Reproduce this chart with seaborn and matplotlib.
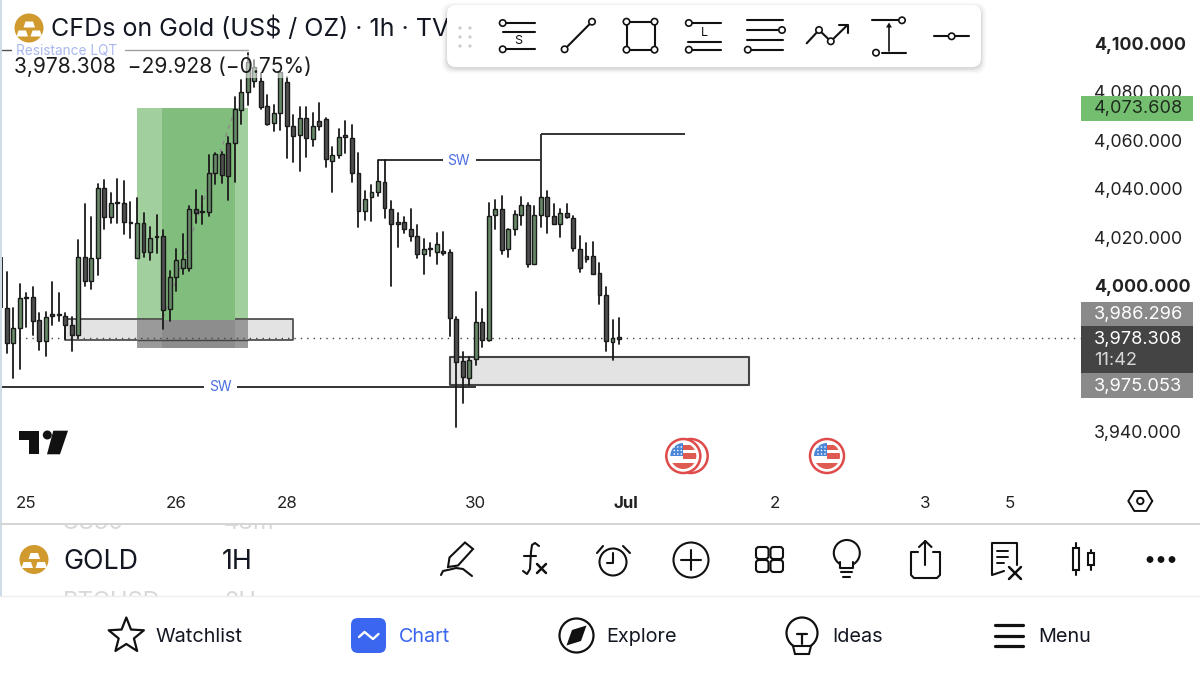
import numpy as np
import pandas as pd
import seaborn as sns
import matplotlib.pyplot as plt
from matplotlib.patches import Circle, Rectangle, Polygon, FancyBboxPatch

# 1. data (bars 1..95, price in US$)
high_px = [4005.6,3990.8,4000.7,3997.0,3999.4,3988.7,3989.1,4001.5,3997.0,3988.7,3987.1,4018.8,4033.7,4028.3,4041.9,4043.6,4038.2,4044.0,4043.2,4034.5,
           4036.1,4030.0,4024.2,4029.1,4022.9,4006.0,4015.1,4021.3,4032.8,4039.4,4037.0,4053.9,4054.7,4055.1,4061.3,4077.8,4084.8,4095.9,4093.1,4087.7,
           4078.6,4074.5,4088.1,4086.0,4070.4,4073.7,4073.7,4071.2,4075.3,4069.1,4057.2,4064.6,4067.9,4066.3,4054.7,4039.0,4041.5,4051.8,4051.8,4034.9,
           4030.0,4028.3,4031.6,4025.0,4019.2,4017.6,4021.7,4022.1,4014.7,3987.1,3972.6,3970.6,3997.4,3990.4,4034.1,4035.3,4037.0,4023.4,4030.8,4036.6,
           4034.1,4032.8,4036.6,4039.0,4033.7,4031.6,4033.7,4028.7,4020.5,4017.6,4018.0,4009.3,3999.4,3985.8,3986.7]
low_px = [3972.2,3961.9,3965.6,3982.9,3979.6,3973.5,3971.0,3983.8,3985.4,3978.0,3973.1,3978.4,3999.8,3998.6,4004.4,4023.4,4025.8,4025.8,4021.3,4019.6,
          4011.4,4011.8,4010.6,4013.5,3982.1,3985.4,3997.8,4004.8,4006.0,4025.8,4025.4,4028.7,4041.9,4042.3,4035.3,4042.7,4066.7,4074.5,4081.9,4072.9,
          4066.3,4063.8,4064.2,4052.6,4051.0,4047.3,4053.1,4057.6,4064.2,4048.9,4038.6,4052.6,4054.7,4042.7,4024.2,4027.1,4026.7,4037.0,4027.9,3999.9,
          4015.9,4021.7,4018.4,4011.4,4004.8,4012.2,4009.0,4012.6,3979.2,3941.7,3951.6,3959.0,3967.3,3974.7,3977.2,4023.4,4013.0,4011.8,4020.9,4025.0,
          4007.7,4009.0,4024.2,4021.7,4025.4,4020.1,4027.9,4014.3,4005.6,4009.7,4004.8,3992.4,3973.1,3969.3,3976.0]
open_px = [3990.8,3976.3,3982.5,3995.3,3995.3,3985.8,3977.2,3988.3,3988.3,3987.5,3983.8,3979.6,4011.8,4001.9,4011.4,4040.3,4028.3,4034.5,4034.1,4026.2,
           4011.4,4025.8,4013.9,4020.5,4020.5,3990.4,4003.6,4007.3,4007.3,4031.6,4030.8,4030.4,4046.4,4054.3,4058.8,4058.8,4072.4,4079.9,4084.4,4084.4,
           4074.1,4067.1,4071.2,4084.0,4065.8,4062.1,4069.1,4060.5,4067.9,4068.7,4051.4,4053.9,4062.1,4060.9,4046.4,4030.8,4036.5,4038.6,4042.7,4031.6,
           4026.2,4026.2,4023.4,4020.5,4013.0,4015.5,4013.9,4014.3,4013.9,3986.2,3968.9,3961.9,3969.7,3985.0,3977.6,4029.1,4031.6,4015.1,4023.4,4029.1,
           4033.3,4009.0,4029.1,4036.6,4028.7,4025.4,4030.0,4027.9,4015.1,4012.2,4012.2,4005.2,3996.1,3976.8,3978.8]
close_px = [3976.3,3982.5,3994.9,3994.9,3985.4,3977.2,3987.1,3987.5,3987.7,3983.8,3979.6,4011.8,4001.9,4011.4,4040.3,4028.3,4034.1,4034.1,4026.2,4025.8,
            4025.8,4013.9,4019.6,4020.1,3990.0,4003.6,4010.6,4011.0,4031.6,4030.0,4030.4,4046.4,4054.3,4045.6,4045.2,4072.8,4079.9,4092.2,4090.2,4073.7,
            4066.7,4071.2,4088.1,4065.8,4061.7,4069.1,4060.9,4065.8,4065.8,4052.2,4053.9,4061.3,4061.3,4046.4,4030.8,4035.7,4038.6,4043.2,4032.0,4025.4,
            4025.4,4023.4,4020.5,4013.0,4015.1,4015.1,4017.2,4013.5,3986.7,3968.5,3962.3,3969.3,3985.0,3977.6,4028.7,4031.6,4014.7,4023.4,4029.5,4033.3,
            4009.0,4029.1,4036.6,4028.7,4025.4,4030.0,4028.3,4015.5,4007.3,4011.0,4004.8,3996.1,3977.2,3978.4,3978.0]

price_ticks = [4100, 4080, 4060, 4040, 4020, 4000, 3940]
bold_prices = [4100, 4000]
date_pos = [4, 27, 44, 73, 96, 119, 142, 155]
date_labels = ['25', '26', '28', '30', 'Jul', '2', '3', '5']
last_price = 3978.308
green_tag = '4,073.608'
bid_tag = '3,986.296'
last_tag = '3,978.308'
countdown = '11:42'
ask_tag = '3,975.053'
title = 'CFDs on Gold (US$ / OZ) · 1h · TV'
quote = '3,978.308  −29.928 (−0.75%)'

W, H = 1200, 675
CHART_W, CHART_H = 1085, 490
DARK = '#1a1a1a'

sns.set_theme(style='white')
plt.rcParams['font.family'] = ['Inter', 'DejaVu Sans']

fig = plt.figure(figsize=(12, 6.75), dpi=100, facecolor='white')
ax = fig.add_axes([0, 1 - CHART_H / H, CHART_W / W, CHART_H / H], zorder=1)
ui = fig.add_axes([0, 0, 1, 1], zorder=2)
ui.set_xlim(0, W)
ui.set_ylim(H, 0)
ui.axis('off')
ui.patch.set_alpha(0)

# 2. chart: bars and drawings, in bar number / price
bars = pd.DataFrame({'bar': np.arange(1, len(high_px) + 1), 'high': high_px, 'low': low_px,
                     'open': open_px, 'close': close_px})
bars['top'] = bars[['open', 'close']].max(axis=1)
bars['bottom'] = bars[['open', 'close']].min(axis=1)
bars['fill'] = np.where(bars['close'] >= bars['open'], '#678a68', '#4f4f4f')
wicks = bars.melt(id_vars='bar', value_vars=['high', 'low'], value_name='price')

ax.set_xlim(-0.03, (CHART_W - 0.2) / 6.514)
ax.set_ylim(3915.7, 4117.8)

# long position box + gray zones
ax.fill_between([20.95, 38.04], 3986.0, 4073.4, color='#a2cf9e', lw=0, zorder=1)
ax.fill_between([24.9, 36.05], 3986.0, 4073.4, color='#81bd7d', lw=0, zorder=1.1)
ax.fill_between([10, 44.95], 3977.6, 3986.2, facecolor='#e3e3e3', edgecolor='#444444', lw=1.2, zorder=1)
ax.fill_between([20.95, 38.04], 3974.4, 3986.0, color='#9a9a9a', lw=0, zorder=1.2)
ax.fill_between([24.9, 36.05], 3974.4, 3986.0, color='#8d8d8d', lw=0, zorder=1.3)
ax.hlines(3977.6, 20.95, 38.04, color='#444444', lw=1.0, zorder=1.4)
ax.fill_between([69, 115], 3959.0, 3970.6, facecolor='#e3e3e3', edgecolor='#444444', lw=1.5, zorder=1)
ax.plot([25, 30.7, 36], [3986.7, 4031.0, 4072.4], color='#8a8a8a', lw=1, ls=(0, (3, 3)), zorder=1.5)

ax.hlines(last_price, -0.03, 165.8, color='#444444', lw=1.0, ls=(0, (1, 3.6)), zorder=1.5)

# swing lines
ax.hlines([3958.2, 3958.2], [-0.03, 36.35], [31.3, 73.05], color='#333333', lw=1.4, zorder=1.6)
ax.hlines([4051.8, 4051.8], [58, 73], [68, 83], color='#333333', lw=1.4, zorder=1.6)
ax.hlines(4062.7, 83, 105.1, color='#333333', lw=1.4, zorder=1.6)
ax.vlines(83, 4036.6, 4062.7, color='#333333', lw=1.4, zorder=1.6)
ax.text(33.8, 3958.0, 'SW', color='#4a6ee0', fontsize=10, ha='center', va='center')
ax.text(70.4, 4051.6, 'SW', color='#4a6ee0', fontsize=10, ha='center', va='center')

# candles
ax.vlines(0.28, 3990.8, 4011.8, color=DARK, lw=1.3, zorder=3)
sns.lineplot(data=wicks, x='bar', y='price', units='bar', estimator=None, color=DARK, lw=1.3,
             legend=False, ax=ax, zorder=3)
ax.bar(bars['bar'], bars['top'] - bars['bottom'], bottom=bars['bottom'], width=0.6,
       color=bars['fill'], edgecolor=DARK, linewidth=1.0, zorder=4)

ax.set_xlabel('')
ax.set_ylabel('')
ax.set_yticks(price_ticks)
ax.set_yticklabels([f'{p:,.3f}' for p in price_ticks], fontsize=12.8, color='#222222')
ax.yaxis.tick_right()
ax.set_xticks(date_pos)
ax.set_xticklabels(date_labels, fontsize=12.2, color='#222222')
ax.tick_params(axis='both', length=0)
ax.tick_params(axis='y', pad=6.6)
ax.tick_params(axis='x', pad=4)
for lab, p in zip(ax.get_yticklabels(), price_ticks):
    if p in bold_prices:
        lab.set_fontweight('bold')
        lab.set_fontsize(12.8)
for lab, d in zip(ax.get_xticklabels(), date_labels):
    if d == 'Jul':
        lab.set_fontweight('bold')
sns.despine(ax=ax, left=True, right=True, top=True, bottom=True)


# 3. app interface, in screen pixels
def line(xs, ys, lw=1.5, color='#111111', z=12, **kw):
    ui.plot(xs, ys, color=color, lw=lw, solid_capstyle='round', zorder=z, **kw)


def ring(x, y, r, lw=1.2, fc='white', ec='#111111', z=13):
    ui.add_patch(Circle((x, y), r, fc=fc, ec=ec, lw=lw, zorder=z))


def gold_logo(cx, cy, r):
    ui.add_patch(Circle((cx, cy), r, fc='#d09a2f', ec='none', zorder=5))
    s = r / 14.5
    for dx, dy in [(0, -6.5), (-7, 2.5), (7, 2.5)]:
        pts = [(dx - 5.5 * s, cy + (dy + 6) * s), (dx - 3.5 * s, cy + dy * s), (dx + 4 * s, cy + dy * s), (dx + 6 * s, cy + (dy + 6) * s)]
        ui.add_patch(Polygon([(cx + px, py) for px, py in pts], fc='white', ec='none', zorder=6))


def us_flag(cx, cy):
    ui.add_patch(Circle((cx, cy), 17, fc='white', ec='#df4a4a', lw=1.8, zorder=6))
    disk = Circle((cx, cy), 13, transform=ui.transData)
    parts = [Rectangle((cx - 14, cy - 14), 14, 14, fc='#4a86d8', ec='none', zorder=7),
             Rectangle((cx, cy - 11), 14, 5, fc='#df5a50', ec='none', zorder=7),
             Rectangle((cx, cy - 3), 14, 6, fc='#df5a50', ec='none', zorder=7),
             Rectangle((cx - 14, cy + 7), 28, 7, fc='#df5a50', ec='none', zorder=7)]
    for p in parts:
        ui.add_patch(p)
        p.set_clip_path(disk)
    for dx in [-9, -5.5, -2]:
        for dy in [-9, -5.5, -2]:
            ui.add_patch(Circle((cx + dx, cy + dy), 0.8, fc='white', ec='none', zorder=8))


# left border, rules, panel ghost text
ui.add_patch(Rectangle((0, 0), 1.5, 596, fc='#cfdbe6', ec='none', zorder=1))
ui.add_patch(Rectangle((1.5, 524), W, 72, fc='white', ec='none', zorder=1.5))
line([0, W], [523.5, 523.5], lw=1.4, color='#d4d4d4', z=3)
line([0, W], [596, 596], lw=1, color='#eeeeee', z=3)
clip = Rectangle((0, 524), W, 72, transform=ui.transData)
for x, y, s in [(62, 523, 'US30'), (224, 523, '48m'), (63, 602, 'BTCUSD'), (224, 602, '2H')]:
    g = ui.text(x, y, s, fontsize=17, color='#d8d8d8', va='center', zorder=2, clip_on=True)
    g.set_clip_path(clip)

# header
gold_logo(29, 28, 14.5)
ui.text(51, 29, title, fontsize=18, color='#131722', va='center', zorder=5)
ui.add_patch(Rectangle((12, 55), 303, 23, fc='white', alpha=0.55, ec='none', zorder=3))
ui.text(14, 67, quote, fontsize=15.1, color='#1c1c1c', va='center', zorder=5)
ui.text(16, 51, 'Resistance LQT', fontsize=9.8, color='#a9b8ee', va='center', zorder=5)
line([2, 11], [50, 50], lw=1, color='#555555', z=4)
line([125, 248], [50, 50], lw=1, color='#a0a0a0', z=4)

# toolbar
for grow, a in [(5, 0.025), (3.5, 0.03), (2, 0.04), (1, 0.05)]:
    ui.add_patch(FancyBboxPatch((447 - grow, 6 - grow + 1.5), 534 + 2 * grow, 61 + 2 * grow, boxstyle='round,pad=0,rounding_size=10',
                                fc='black', alpha=a, ec='none', zorder=9))
ui.add_patch(FancyBboxPatch((447, 5), 534, 62, boxstyle='round,pad=0,rounding_size=9', fc='white', ec='none', zorder=10))
for x in [460, 470]:
    for y in [28, 37, 46]:
        ui.add_patch(Circle((x, y), 1.6, fc='#cccccc', ec='none', zorder=11))
line([505, 534.6], [23, 23])
line([503, 534.6], [31.7, 31.7])
line([505, 534.6], [49.3, 49.3])
ring(502.7, 23, 3.2)
ring(502.7, 49.3, 3.2)
ui.text(518.4, 41, 'S', fontsize=9, color='#111111', ha='center', va='center', zorder=12)
line([564.6, 592], [49.3, 21.7])
ring(564.6, 49.3, 3.2)
ring(592, 21.7, 3.2)
line([626.5, 654.5, 654.5, 626.5, 626.5], [21.7, 21.7, 49.7, 49.7, 21.7])
for x in [626.5, 654.5]:
    for y in [21.7, 49.7]:
        ring(x, y, 3.2)
line([691, 720.8], [23, 23])
line([688, 720.8], [41.7, 41.7])
line([691, 720.8], [49.7, 49.7])
ring(688.8, 23, 3.2)
ring(688.8, 49.7, 3.2)
ui.text(704, 33, 'L', fontsize=9, color='#111111', ha='center', va='center', zorder=12)
line([746.8, 782.7], [20, 20])
line([746.8, 778], [30, 30])
line([746.8, 782.7], [39.7, 39.7])
line([750, 782.7], [49.7, 49.7])
ring(782, 30, 3.2)
ring(747.8, 49.7, 3.2)
line([806.7, 819, 830.8, 847.5], [43.3, 30, 41.3, 25])
line([839, 847.5, 847.5], [25, 25, 33])
ring(819, 30, 3.2)
ring(830.8, 41.3, 3.2)
line([872, 899], [20.3, 20.3])
line([882, 906], [52.7, 52.7])
line([889, 889], [50.7, 25], lw=1.2)
ui.add_patch(Polygon([(889, 22.5), (886, 27.5), (892, 27.5)], fc='#111111', ec='none', zorder=12))
ring(902, 20.3, 3.2)
ring(876, 52.7, 3.2)
line([934.4, 968.8], [36.3, 36.3])
ring(951.6, 36.3, 3.2)

# price tags
tags = [(96, 121, '#73bf6f'), (302, 326, '#8a8a8a'), (326, 373, '#444444'), (373, 398, '#8a8a8a')]
for y0, y1, col in tags:
    ui.add_patch(Rectangle((1081, y0), 112, y1 - y0, fc=col, ec='none', zorder=5))
ui.text(1094, 109, green_tag, fontsize=13.1, color='#1f2a1f', va='center', zorder=6)
ui.text(1094, 314.5, bid_tag, fontsize=13.1, color='white', va='center', zorder=6)
ui.text(1094, 339.5, last_tag, fontsize=13.1, color='white', va='center', zorder=6)
ui.text(1094, 360.5, countdown, fontsize=13.1, color='#d8d8d8', va='center', zorder=6)
ui.text(1094, 386, ask_tag, fontsize=13.1, color='white', va='center', zorder=6)

# events and logos on the chart
ui.add_patch(Circle((690.7, 456), 17, fc='white', ec='#df4a4a', lw=1.8, zorder=5))
us_flag(683.3, 456)
us_flag(827, 456)
ui.add_patch(Polygon([(19, 430.7), (39.3, 430.7), (39.3, 454.3), (29.3, 454.3), (29.3, 440), (19, 440)], fc='#111111', ec='none', zorder=5))
ui.add_patch(Circle((47.3, 435), 4.5, fc='#111111', ec='none', zorder=5))
ui.add_patch(Polygon([(53.3, 430.7), (68, 430.7), (60, 454.3), (47, 454.3)], fc='#111111', ec='none', zorder=5))
ang = np.deg2rad(np.arange(0, 361, 60))
line(1140.3 + 12 * np.cos(ang), 501 + 11.5 * np.sin(ang), lw=1.4)
ring(1140.3, 501, 3.2, lw=1.4)

# tool row
gold_logo(34, 559.5, 14.5)
ui.text(63, 562, 'GOLD', fontsize=19.3, color='#131722', va='center', zorder=5)
ui.text(222, 562, '1H', fontsize=19.3, color='#131722', va='center', zorder=5)
ui.add_patch(Polygon([(449.5, 557.5), (465, 542.5), (473, 549), (458, 565.5), (448, 567)], fc='white', ec='#111111', lw=1.5, zorder=6))
line([441, 443, 450, 456, 463, 472], [575, 571, 569.5, 568, 569, 576], lw=1.5)
line([539, 535, 532, 531, 530, 527, 523], [546, 543, 545, 552, 569, 574, 571], lw=1.5)
line([524, 536], [556, 556], lw=1.5)
line([537, 546], [564, 573], lw=1.8)
line([546, 537], [564, 573], lw=1.8)
ring(613, 562, 13.5, lw=1.5)
line([613, 613, 607], [553, 563, 563], lw=1.5, z=14)
line([597, 603], [553, 546], lw=1.5)
line([623, 630], [546, 553], lw=1.5)
ring(691, 560, 17.5, lw=1.5)
line([681, 701], [560, 560], lw=1.5, z=14)
line([691, 691], [550, 570], lw=1.5, z=14)
for x in [756, 770.5]:
    for y in [547, 560]:
        ui.add_patch(FancyBboxPatch((x, y), 12.5, 12, boxstyle='round,pad=0,rounding_size=3', fc='none', ec='#111111', lw=1.5, zorder=6))
ring(846.8, 553, 13, lw=1.5)
ui.add_patch(Rectangle((840, 561), 13, 8, fc='white', ec='none', zorder=14))
line([840, 840, 853, 853], [562, 568, 568, 562], lw=1.5, z=15)
line([841, 852], [572, 572], lw=1.5)
line([843, 850], [577, 577], lw=1.5)
line([918, 911, 911, 914, 937, 940, 940, 933], [552, 552, 575, 578, 578, 575, 552, 552], lw=1.5)
line([925.3, 925.3], [565, 541], lw=1.5)
line([919, 925.3, 931.5], [547, 541, 547], lw=1.5)
line([1017, 1017, 992, 992, 1004], [565, 543, 543, 575, 571], lw=1.5)
for y, x1 in [(551, 1008), (557, 1008), (563, 1004)]:
    line([997, x1], [y, y], lw=1.4)
line([1009, 1021], [567, 579], lw=1.8)
line([1021, 1009], [567, 579], lw=1.8)
line([1076.4, 1076.4], [543, 575], lw=1.5)
line([1090.6, 1090.6], [550, 570], lw=1.5)
ui.add_patch(Rectangle((1073.4, 548), 6, 22, fc='white', ec='#111111', lw=1.5, zorder=13))
ui.add_patch(Rectangle((1087.6, 553), 6, 12, fc='white', ec='#111111', lw=1.5, zorder=13))
for x in [1150, 1161, 1172]:
    ui.add_patch(Circle((x, 559.5), 3.4, fc='#111111', ec='none', zorder=6))

# bottom nav
a = np.deg2rad(np.arange(0, 360, 36) - 90)
rad = np.where(np.arange(10) % 2 == 0, 18.5, 8)
ui.add_patch(Polygon(np.c_[126.3 + rad * np.cos(a), 636 + rad * np.sin(a)], fc='white', ec='#111111', lw=1.6, joinstyle='round', zorder=6))
ui.text(156, 637, 'Watchlist', fontsize=14.3, color='#131722', va='center', zorder=6)
ui.add_patch(FancyBboxPatch((351, 618), 35, 35, boxstyle='round,pad=0,rounding_size=7', fc='#3a66f0', ec='none', zorder=6))
line([359, 364.5, 373, 378.5], [637, 632, 639, 634], lw=1.7, color='white', z=7)
ui.text(399, 637, 'Chart', fontsize=14.3, color='#3a66f0', va='center', zorder=6)
ring(576.5, 635.5, 17, lw=1.6)
ui.add_patch(Polygon([(586.5, 625.5), (581, 641), (566.5, 645.5), (572, 630)], fc='#111111', ec='none', zorder=14))
ui.text(606, 637, 'Explore', fontsize=14.3, color='#131722', va='center', zorder=6)
ring(802, 633, 15.5, lw=1.6)
line([797, 807], [634, 634], lw=1.6, z=14)
line([802, 802], [634, 644], lw=1.6, z=14)
ui.add_patch(Polygon([(793, 646), (811, 646), (809, 654), (795, 654)], fc='white', ec='#111111', lw=1.5, zorder=14))
ui.text(832, 637, 'Ideas', fontsize=14.3, color='#131722', va='center', zorder=6)
for y in [625, 635.5, 645.7]:
    line([994.5, 1023], [y, y], lw=2.3)
ui.text(1038, 637, 'Menu', fontsize=14.3, color='#131722', va='center', zorder=6)

plt.savefig('out.png', dpi=100)
